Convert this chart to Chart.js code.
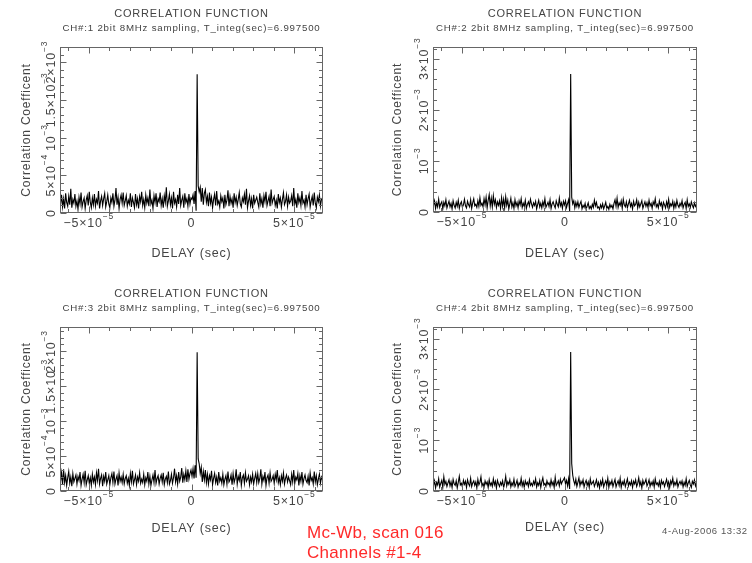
<!DOCTYPE html>
<html>
<head>
<meta charset="utf-8">
<title>Correlation function - Mc-Wb, scan 016</title>
<script src="https://cdn.jsdelivr.net/npm/chart.js@4.4.0/dist/chart.umd.min.js"></script>
<style>
  html, body { margin: 0; padding: 0; background: #fff; }
  #page { position: relative; width: 752px; height: 563px; overflow: hidden;
          font-family: "Liberation Sans", Arial, sans-serif; }
  #page canvas { position: absolute; }
  .note { position: absolute; color: #ff2a2a; font-size: 17px; line-height: 20px; letter-spacing: 0.3px; white-space: nowrap; }
  .stamp { position: absolute; color: #555; font-size: 9.5px; letter-spacing: 0.6px; white-space: nowrap; }
</style>
</head>
<body>
<div id="page">
  <canvas id="ch1" width="376" height="275" style="left:0;top:0"></canvas>
  <canvas id="ch2" width="376" height="275" style="left:376px;top:0"></canvas>
  <canvas id="ch3" width="376" height="275" style="left:0;top:280px"></canvas>
  <canvas id="ch4" width="376" height="275" style="left:376px;top:280px"></canvas>
  <div class="note" style="left:307px;top:523px">Mc-Wb, scan 016<br>Channels #1-4</div>
  <div class="stamp" style="left:662px;top:525px">4-Aug-2006 13:32</div>
</div>
<script>
// lag grid of the correlator, microseconds
const delayStartUs = -63.75;
const delayStepUs = 0.5;

// correlation coefficient per lag, in units of 1e-4
const ch1Corr = [
  1.2, 2.4, 0.8, 1.9, 0.6, 2.6, 1.4, 0.9, 2.2, 1.1, 3.2, 0.7, 1.8, 1.3, 2.5, 0.9,
  1.6, 0.5, 2.1, 1.2, 2.7, 0.8, 1.5, 2.0, 0.6, 1.7, 2.3, 1.0, 2.8, 1.4, 0.7, 2.0,
  1.1, 2.5, 0.9, 1.8, 1.3, 2.9, 0.6, 1.6, 2.2, 1.0, 1.9, 2.6, 0.8, 1.5, 2.4, 1.2,
  0.7, 2.0, 1.4, 2.6, 0.9, 1.7, 3.3, 1.1, 2.1, 0.6, 1.8, 2.4, 1.3, 2.7, 1.0, 1.6,
  2.3, 0.9, 1.7, 1.2, 2.6, 0.8, 2.0, 1.4, 0.7, 2.5, 1.1, 1.9, 0.6, 2.2, 1.5, 2.8,
  1.0, 1.8, 0.7, 2.4, 1.3, 2.0, 0.9, 3.1, 1.2, 1.7, 0.6, 2.3, 1.4, 2.6, 0.8, 1.9,
  1.5, 2.7, 1.0, 1.9, 0.7, 2.3, 1.4, 3.4, 0.9, 1.6, 2.5, 1.1, 2.0, 0.6, 2.8, 1.3,
  1.8, 0.8, 2.4, 1.2, 3.3, 1.0, 1.7, 2.2, 0.7, 2.6, 1.4, 1.9, 0.9, 2.5, 1.2, 2.0,
  1.8, 2.4, 1.2, 2.9, 0.3, 18.4, 3.6, 2.8, 3.4, 1.5, 3.3, 1.1, 2.6, 3.1, 1.4, 2.2,
  0.9, 2.7, 1.3, 2.1, 0.7, 1.8, 2.5, 1.0, 2.9, 1.2, 1.6, 0.8, 2.3, 1.5, 2.0, 0.6,
  2.4, 1.1, 1.7, 3.0, 0.9, 2.2, 1.3, 1.9, 0.7, 2.6, 1.4, 2.1, 1.0, 1.8, 2.7, 1.2,
  0.8, 2.0, 1.5, 2.5, 1.1, 3.2, 0.7, 1.6, 2.3, 1.0, 1.9, 0.6, 2.4, 1.3, 1.7, 2.1,
  1.4, 0.8, 2.6, 1.2, 1.9, 0.7, 2.3, 1.5, 2.8, 1.0, 1.6, 2.2, 0.9, 3.1, 1.3, 1.8,
  2.2, 1.0, 1.7, 0.6, 2.5, 1.4, 2.0, 0.8, 1.8, 2.7, 1.1, 1.5, 2.4, 0.9, 2.1, 1.3,
  1.6, 2.3, 0.9, 3.3, 1.2, 1.8, 0.7, 2.6, 1.4, 2.0, 1.0, 2.9, 1.3, 1.7, 0.8, 2.4,
  1.1, 1.9, 2.5, 0.8, 1.6, 2.2, 1.0, 2.7, 1.3, 0.7, 2.1, 1.5, 2.4, 0.9, 1.8, 2.0
];
const ch2Corr = [
  1.3, 2.2, 0.7, 1.8, 1.0, 2.5, 0.9, 1.6, 2.0, 0.6, 1.9, 1.2, 2.4, 0.8, 1.5, 2.1,
  1.0, 1.7, 0.6, 2.2, 1.3, 0.8, 1.9, 1.1, 2.3, 0.7, 1.6, 2.0, 0.9, 1.4, 2.5, 1.2,
  0.8, 2.1, 1.4, 1.0, 2.4, 0.7, 1.8, 2.6, 1.2, 1.5, 0.9, 2.2, 1.1, 2.8, 1.3, 1.7,
  1.0, 2.6, 1.4, 2.9, 0.8, 2.3, 3.4, 1.2, 2.7, 1.0, 3.2, 1.5, 2.4, 0.9, 2.0, 1.3,
  2.2, 0.7, 2.8, 1.1, 2.5, 0.8, 3.0, 1.3, 2.3, 0.6, 1.6, 2.7, 1.0, 1.8, 0.7, 2.4,
  1.2, 1.9, 0.8, 2.2, 1.4, 2.6, 0.9, 1.7, 1.1, 2.3, 0.7, 1.5, 2.0, 1.2, 2.5, 1.6,
  0.9, 1.8, 1.3, 2.1, 0.6, 1.5, 2.3, 1.0, 1.7, 0.8, 2.0, 1.2, 2.6, 0.9, 1.4, 1.9,
  1.1, 2.4, 0.7, 1.6, 2.0, 1.3, 0.8, 2.2, 1.5, 1.0, 2.7, 1.2, 1.8, 0.7, 2.1, 1.4,
  2.2, 0.9, 1.7, 2.4, 0.2, 27.0, 2.9, 1.6, 2.2, 0.8, 1.9, 1.1, 2.0, 0.9, 1.6, 2.1,
  0.6, 1.3, 0.9, 1.7, 0.5, 1.2, 1.8, 0.7, 1.1, 0.6, 1.5, 0.9, 2.3, 1.2, 1.9, 0.8,
  1.0, 0.5, 1.4, 0.8, 1.6, 0.6, 1.2, 1.9, 0.7, 1.1, 0.5, 1.5, 0.9, 1.3, 0.6, 1.7,
  2.4, 1.1, 2.7, 0.9, 1.8, 1.3, 2.2, 0.7, 2.5, 1.4, 1.0, 2.0, 0.8, 1.6, 2.3, 1.1,
  1.7, 0.6, 2.1, 1.2, 1.5, 2.4, 0.8, 1.9, 1.0, 1.6, 2.2, 0.7, 1.4, 2.0, 1.1, 1.8,
  0.9, 2.3, 1.2, 1.7, 0.7, 2.0, 1.4, 2.6, 1.0, 1.5, 0.8, 2.2, 1.3, 1.8, 0.6, 1.9,
  1.4, 0.8, 2.0, 1.1, 2.5, 0.9, 1.6, 1.2, 2.1, 0.7, 1.8, 1.0, 2.3, 1.3, 0.9, 1.7,
  1.2, 2.2, 0.8, 1.5, 1.9, 0.7, 2.4, 1.1, 1.6, 0.9, 2.0, 1.3, 0.8, 1.8, 1.1, 1.5
];
const ch3Corr = [
  1.4, 2.6, 0.9, 3.1, 1.2, 2.2, 0.8, 1.9, 2.8, 1.1, 2.0, 0.7, 2.5, 1.3, 1.8, 2.3,
  1.0, 2.1, 1.5, 2.7, 0.8, 1.7, 2.4, 1.2, 2.9, 0.9, 1.6, 2.2, 1.1, 1.9, 0.8, 2.4,
  1.3, 2.0, 0.9, 2.6, 1.5, 3.2, 1.0, 1.8, 2.3, 0.7, 2.1, 1.4, 2.7, 1.0, 1.6, 2.2,
  0.9, 1.9, 2.5, 1.2, 2.8, 1.0, 1.7, 2.2, 0.8, 2.6, 1.4, 2.0, 1.2, 2.4, 1.0, 1.8,
  2.2, 1.1, 1.8, 0.8, 2.5, 1.3, 2.9, 1.0, 1.6, 2.3, 0.9, 2.0, 1.4, 2.6, 1.1, 1.7,
  1.2, 2.4, 0.9, 1.9, 1.4, 2.7, 1.0, 2.1, 0.8, 1.6, 2.3, 1.2, 3.0, 1.1, 1.8, 2.2,
  1.0, 1.8, 2.3, 1.3, 2.6, 0.9, 1.7, 2.1, 1.2, 2.8, 1.0, 1.5, 2.4, 1.1, 1.9, 3.2,
  1.3, 2.2, 1.0, 2.7, 1.4, 2.0, 3.3, 1.2, 2.4, 1.6, 2.9, 1.3, 3.1, 1.7, 2.5, 3.0,
  2.1, 3.2, 1.8, 3.7, 1.9, 19.9, 4.6, 3.9, 2.5, 3.4, 1.3, 2.8, 1.6, 3.0, 1.2, 2.4,
  1.0, 2.2, 1.6, 2.9, 0.9, 1.8, 2.5, 1.2, 2.0, 0.8, 2.7, 1.4, 1.9, 1.1, 2.4, 0.9,
  1.7, 2.2, 1.0, 2.8, 1.3, 1.6, 2.3, 0.9, 2.5, 1.2, 1.8, 3.1, 1.0, 2.1, 1.5, 2.7,
  0.8, 1.9, 2.3, 1.1, 2.6, 1.4, 1.7, 2.2, 0.9, 2.0, 1.3, 2.4, 1.0, 1.8, 2.5, 1.2,
  2.5, 1.2, 1.8, 3.1, 1.0, 2.1, 1.5, 2.7, 0.8, 1.9, 2.3, 1.1, 2.6, 1.4, 1.7, 2.2,
  1.1, 2.4, 1.6, 3.0, 1.2, 1.9, 0.9, 2.2, 1.4, 2.6, 1.0, 1.8, 2.3, 1.3, 2.0, 1.5,
  0.9, 2.4, 1.3, 3.0, 1.1, 2.0, 1.6, 2.5, 0.8, 2.2, 1.4, 2.7, 1.0, 1.8, 2.3, 1.5,
  1.2, 2.1, 0.8, 2.6, 1.5, 1.9, 1.0, 2.8, 1.3, 2.2, 0.9, 1.7, 2.4, 1.1, 2.0, 1.6
];
const ch4Corr = [
  1.1, 2.0, 0.6, 1.7, 1.2, 2.4, 0.8, 1.5, 2.1, 0.7, 2.8, 1.3, 1.9, 0.9, 1.6, 2.2,
  1.0, 1.8, 0.7, 2.3, 1.4, 1.1, 2.0, 0.6, 1.7, 2.9, 1.2, 1.5, 0.8, 2.1, 1.3, 1.9,
  0.7, 2.2, 1.4, 1.0, 2.5, 0.9, 1.6, 2.0, 1.1, 1.8, 0.6, 2.3, 1.2, 1.7, 2.8, 1.0,
  1.5, 0.8, 2.0, 1.3, 1.8, 0.7, 2.2, 1.1, 1.6, 0.9, 2.4, 1.2, 1.9, 0.6, 2.1, 1.4,
  0.9, 1.7, 1.2, 2.0, 0.7, 1.5, 2.9, 1.0, 1.8, 1.3, 2.2, 0.8, 1.6, 1.1, 2.3, 0.9,
  1.4, 2.1, 0.8, 1.6, 1.2, 2.5, 1.0, 1.8, 0.7, 2.0, 1.3, 1.7, 0.9, 2.2, 1.1, 1.5,
  1.0, 1.9, 1.3, 2.4, 0.8, 1.6, 1.1, 2.1, 0.7, 1.8, 2.6, 1.2, 1.5, 0.9, 2.0, 1.3,
  1.6, 0.9, 2.2, 1.2, 1.8, 0.7, 2.7, 1.1, 1.5, 2.0, 1.0, 2.3, 1.4, 1.9, 2.2, 2.6,
  1.4, 2.1, 1.0, 2.4, 0.4, 27.4, 5.4, 3.1, 2.0, 1.3, 2.3, 0.9, 1.7, 2.6, 1.0, 1.9,
  1.4, 2.2, 0.8, 1.6, 2.1, 1.1, 1.8, 0.7, 2.4, 1.3, 1.6, 2.0, 0.9, 1.5, 2.2, 1.0,
  1.7, 0.6, 1.9, 1.2, 2.3, 0.8, 1.5, 2.0, 1.1, 2.5, 0.7, 1.8, 1.3, 2.1, 0.9, 1.6,
  2.3, 0.8, 1.5, 2.0, 1.1, 2.5, 0.7, 1.8, 1.3, 2.1, 0.9, 1.6, 2.4, 1.0, 1.7, 1.2,
  2.0, 0.7, 1.9, 1.4, 2.2, 0.9, 1.5, 2.6, 1.1, 1.8, 0.6, 2.1, 1.3, 1.7, 2.3, 1.0,
  1.5, 2.2, 0.9, 1.7, 1.2, 2.0, 0.8, 2.4, 1.3, 1.6, 1.0, 1.9, 0.7, 2.1, 1.4, 1.8,
  0.9, 1.6, 2.3, 1.1, 1.8, 0.7, 2.0, 1.4, 2.5, 1.0, 1.7, 1.2, 2.2, 0.8, 1.5, 1.9,
  1.3, 2.0, 0.8, 1.7, 1.1, 2.4, 0.9, 1.6, 2.1, 1.2, 0.7, 1.9, 1.4, 2.2, 1.0, 1.6
];

const channelIds = ['1', '2', '3', '4'];
const integSec = '6.997500';
const yMaxE4 = [22, 32.3, 23.5, 32.3];
const xLimitSec = 6.4e-5;

const xTickValues = [-5e-5, 0, 5e-5];
const xTickLabels = ['\u22125\u00d710^\u22125', '0', '5\u00d710^\u22125'];
const yTickValuesFine = [0, 5e-4, 1e-3, 1.5e-3, 2e-3];
const yTickLabelsFine = ['0', '5\u00d710^\u22124', '10^\u22123', '1.5\u00d710^\u22123', '2\u00d710^\u22123'];
const yTickValuesCoarse = [0, 1e-3, 2e-3, 3e-3];
const yTickLabelsCoarse = ['0', '10^\u22123', '2\u00d710^\u22123', '3\u00d710^\u22123'];

const FONT = '"Liberation Sans", Arial, sans-serif';
const INK = '#444';
const FRAME = '#666';

Chart.defaults.font.family = FONT;
Chart.defaults.color = INK;

// where each panel's plot box sits inside its 376x275 canvas
const panelBoxes = [
  {canvas: 'ch1', data: ch1Corr, areaLeft: 60, areaRight: 323, areaBottom: 213, xTitleY: 254, yTitleX: 27, fine: true},
  {canvas: 'ch2', data: ch2Corr, areaLeft: 57, areaRight: 321, areaBottom: 212, xTitleY: 254, yTitleX: 22, fine: false},
  {canvas: 'ch3', data: ch3Corr, areaLeft: 60, areaRight: 323, areaBottom: 211, xTitleY: 249, yTitleX: 27, fine: true},
  {canvas: 'ch4', data: ch4Corr, areaLeft: 57, areaRight: 321, areaBottom: 211, xTitleY: 248, yTitleX: 22, fine: false}
];

// "base^exp" -> base text with a raised exponent, centred on cx
function drawExpLabel(ctx, label, cx, baseY) {
  const parts = label.split('^');
  const base = parts[0], exp = parts[1];
  ctx.font = '12.5px ' + FONT;
  const wb = ctx.measureText(base).width;
  let we = 0;
  if (exp) {
    ctx.font = '8.5px ' + FONT;
    we = ctx.measureText(exp).width;
  }
  const x0 = cx - (wb + we) / 2;
  ctx.font = '12.5px ' + FONT;
  ctx.fillText(base, x0, baseY);
  if (exp) {
    ctx.font = '8.5px ' + FONT;
    ctx.fillText(exp, x0 + wb, baseY - 8);
  }
}

function tickMarks(scale, minorStep, majorStep, draw) {
  const first = Math.ceil(scale.min / minorStep - 1e-9);
  const last = Math.floor(scale.max / minorStep + 1e-9);
  const perMajor = Math.round(majorStep / minorStep);
  for (let k = first; k <= last; k++) {
    const px = Math.round(scale.getPixelForValue(k * minorStep)) + 0.5;
    draw(px, k % perMajor === 0 ? 6 : 3.5);
  }
}

function framePlugin(box) {
  const yMinor = box.fine ? 1e-4 : 2e-4;
  const yMajor = box.fine ? 5e-4 : 1e-3;
  const yVals = box.fine ? yTickValuesFine : yTickValuesCoarse;
  const yLabs = box.fine ? yTickLabelsFine : yTickLabelsCoarse;
  return {
    id: 'pgplotFrame',
    beforeDraw(chart) {
      chart.ctx.letterSpacing = '0.8px';
    },
    afterDraw(chart) {
      const {ctx, chartArea: a, scales: {x, y}} = chart;
      const L = Math.round(a.left) + 0.5, R = Math.round(a.right) - 0.5;
      const T = Math.round(a.top) + 0.5, B = Math.round(a.bottom) - 0.5;
      ctx.save();
      ctx.strokeStyle = FRAME;
      ctx.lineWidth = 1;
      ctx.strokeRect(L, T, R - L, B - T);
      ctx.beginPath();
      tickMarks(x, 1e-5, 5e-5, (px, len) => {
        ctx.moveTo(px, B); ctx.lineTo(px, B - len);
        ctx.moveTo(px, T); ctx.lineTo(px, T + len);
      });
      tickMarks(y, yMinor, yMajor, (py, len) => {
        ctx.moveTo(L, py); ctx.lineTo(L + len, py);
        ctx.moveTo(R, py); ctx.lineTo(R - len, py);
      });
      ctx.stroke();

      ctx.fillStyle = INK;
      ctx.textAlign = 'left';
      ctx.textBaseline = 'alphabetic';
      xTickValues.forEach((v, i) => {
        drawExpLabel(ctx, xTickLabels[i], x.getPixelForValue(v), a.bottom + 14);
      });
      yVals.forEach((v, i) => {
        ctx.save();
        ctx.translate(a.left - 5.5, y.getPixelForValue(v));
        ctx.rotate(-Math.PI / 2);
        drawExpLabel(ctx, yLabs[i], 0, 0);
        ctx.restore();
      });
      ctx.restore();
    }
  };
}

panelBoxes.forEach((box, n) => {
  const W = 376, H = 275;
  const points = box.data.map((v, i) => ({
    x: (delayStartUs + i * delayStepUs) * 1e-6,
    y: v * 1e-4
  }));
  new Chart(document.getElementById(box.canvas), {
    type: 'line',
    data: {
      datasets: [{
        data: points,
        borderColor: '#000',
        borderWidth: 1.1,
        pointRadius: 0,
        tension: 0,
        fill: false
      }]
    },
    options: {
      responsive: false,
      animation: false,
      events: [],
      layout: {padding: {left: 0, top: 0, bottom: 0, right: W - box.areaRight}},
      plugins: {
        legend: {display: false},
        tooltip: {enabled: false},
        title: {
          display: true,
          text: 'CORRELATION FUNCTION',
          fullSize: false,
          color: INK,
          font: {size: 11, weight: 'normal'},
          padding: {top: 7.4, bottom: 0}
        },
        subtitle: {
          display: true,
          text: 'CH#:' + channelIds[n] + ' 2bit 8MHz sampling, T_integ(sec)=' + integSec,
          fullSize: false,
          color: INK,
          font: {size: 9.7, weight: 'normal'},
          padding: {top: 1.9, bottom: 12.9}
        }
      },
      scales: {
        x: {
          type: 'linear',
          min: -xLimitSec,
          max: xLimitSec,
          grid: {display: false},
          border: {display: false},
          ticks: {display: false},
          afterFit(s) { s.height = H - box.areaBottom; },
          title: {
            display: true,
            text: 'DELAY (sec)',
            color: INK,
            font: {size: 12.5},
            padding: {top: 0, bottom: H - box.xTitleY - 7.5}
          }
        },
        y: {
          type: 'linear',
          min: 0,
          max: yMaxE4[n] * 1e-4,
          grid: {display: false},
          border: {display: false},
          ticks: {display: false},
          afterFit(s) { s.width = box.areaLeft; },
          title: {
            display: true,
            text: 'Correlation Coefficent',
            color: INK,
            font: {size: 12},
            padding: {top: box.yTitleX - 7.2, bottom: 0}
          }
        }
      }
    },
    plugins: [framePlugin(box)]
  });
});
</script>
</body>
</html>
